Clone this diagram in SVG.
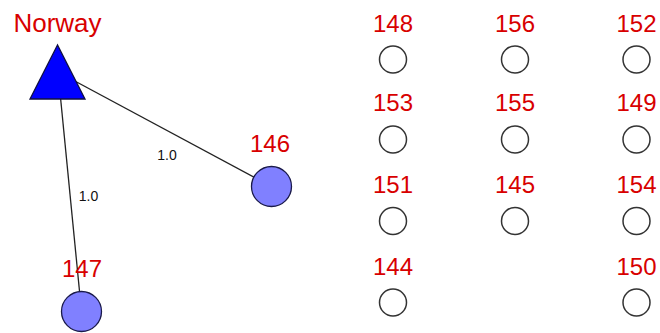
<svg xmlns="http://www.w3.org/2000/svg" width="660" height="333" viewBox="0 0 660 333">
<style>
.lbl{font-family:"Liberation Sans",Arial,sans-serif;font-size:24px;fill:#d80000;text-anchor:middle}
.wt{font-family:"Liberation Sans",Arial,sans-serif;font-size:14px;fill:#111;text-anchor:middle}
.edge{stroke:#222;stroke-width:1.3;fill:none}
.big{fill:#8080ff;stroke:#1a1a4a;stroke-width:1.3}
.small{fill:#fff;stroke:#333;stroke-width:1.5}
.tri{fill:#0000ff;stroke:#101040;stroke-width:1.3}
</style>
<rect width="660" height="333" fill="#fff"/>
<g id="connectors">
<line class="edge" x1="58" y1="72" x2="271.5" y2="186.5"/>
<line class="edge" x1="58" y1="72" x2="81.5" y2="311.5"/>
<text class="wt" x="167" y="160">1.0</text>
<text class="wt" x="88.5" y="201">1.0</text>
</g>
<g id="norway"><polygon class="tri" points="57.5,45 30,99 85,99"/><text class="lbl" x="57.5" y="32" style="font-size:26px">Norway</text></g>
<g id="n146"><circle class="big" cx="271.5" cy="186.5" r="20"/><text class="lbl" x="270" y="152">146</text></g>
<g id="n147"><circle class="big" cx="81.5" cy="311.5" r="20"/><text class="lbl" x="82" y="277">147</text></g>
<g id="n148"><circle class="small" cx="393" cy="59.5" r="13.5"/><text class="lbl" x="393" y="32">148</text></g>
<g id="n156"><circle class="small" cx="515" cy="59.5" r="13.5"/><text class="lbl" x="515" y="32">156</text></g>
<g id="n152"><circle class="small" cx="636.5" cy="59.5" r="13.5"/><text class="lbl" x="636.5" y="32">152</text></g>
<g id="n153"><circle class="small" cx="393" cy="139.5" r="13.5"/><text class="lbl" x="393" y="111">153</text></g>
<g id="n155"><circle class="small" cx="515" cy="139.5" r="13.5"/><text class="lbl" x="515" y="111">155</text></g>
<g id="n149"><circle class="small" cx="636.5" cy="139.5" r="13.5"/><text class="lbl" x="636.5" y="111">149</text></g>
<g id="n151"><circle class="small" cx="393" cy="221" r="13.5"/><text class="lbl" x="393" y="193">151</text></g>
<g id="n145"><circle class="small" cx="515" cy="221" r="13.5"/><text class="lbl" x="515" y="193">145</text></g>
<g id="n154"><circle class="small" cx="636.5" cy="221" r="13.5"/><text class="lbl" x="636.5" y="193">154</text></g>
<g id="n144"><circle class="small" cx="393" cy="302.5" r="13.5"/><text class="lbl" x="393" y="275">144</text></g>
<g id="n150"><circle class="small" cx="636.5" cy="302.5" r="13.5"/><text class="lbl" x="636.5" y="275">150</text></g>
</svg>
